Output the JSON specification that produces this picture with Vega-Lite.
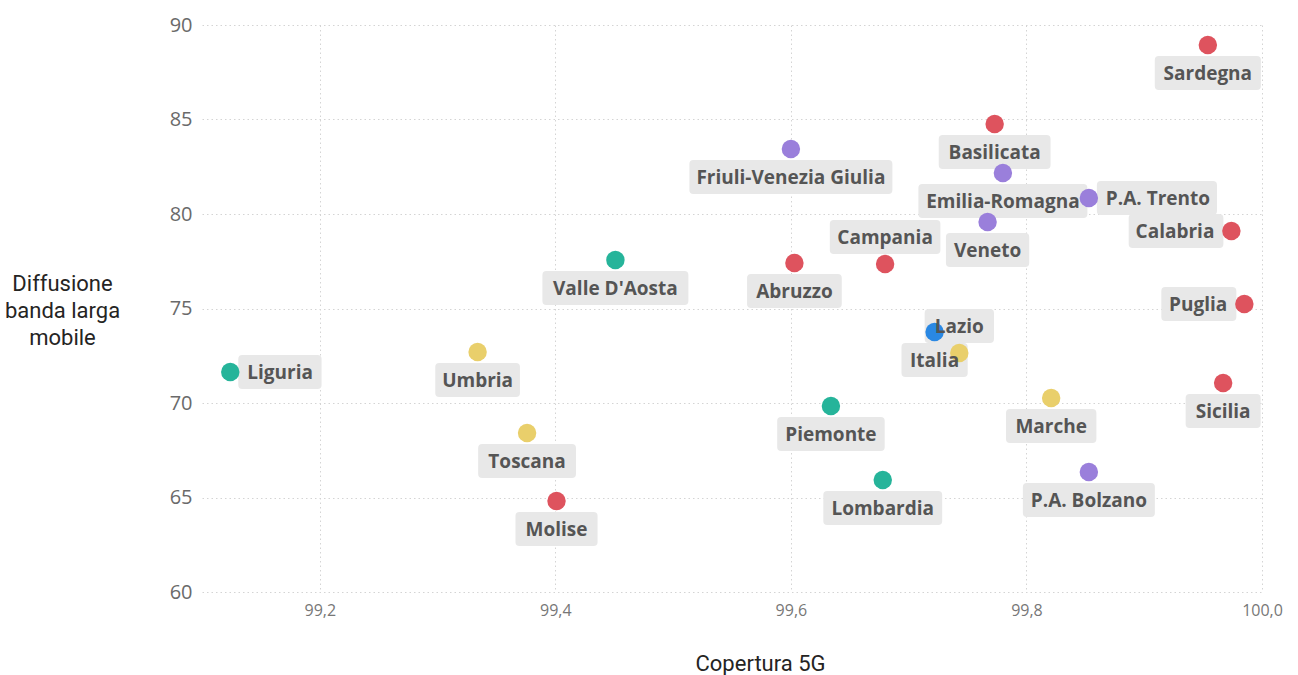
{
  "$schema": "https://vega.github.io/schema/vega-lite/v6.json",
  "autosize": {"type": "none"},
  "width": 1060,
  "height": 567,
  "padding": {"left": 202, "top": 25, "right": 36, "bottom": 83},
  "background": "white",
  "config": {"view": {"stroke": null}},
  "data": {
    "values": [
      {"nome": "Liguria", "copertura": 99.124, "diffusione": 71.64, "zona": "Nord-Ovest", "pos": "right"},
      {"nome": "Umbria", "copertura": 99.334, "diffusione": 72.70, "zona": "Centro", "pos": "below"},
      {"nome": "Toscana", "copertura": 99.376, "diffusione": 68.41, "zona": "Centro", "pos": "below"},
      {"nome": "Molise", "copertura": 99.401, "diffusione": 64.81, "zona": "Sud e Isole", "pos": "below"},
      {"nome": "Valle D'Aosta", "copertura": 99.451, "diffusione": 77.57, "zona": "Nord-Ovest", "pos": "below"},
      {"nome": "Friuli-Venezia Giulia", "copertura": 99.600, "diffusione": 83.44, "zona": "Nord-Est", "pos": "below"},
      {"nome": "Abruzzo", "copertura": 99.603, "diffusione": 77.41, "zona": "Sud e Isole", "pos": "below"},
      {"nome": "Piemonte", "copertura": 99.634, "diffusione": 69.84, "zona": "Nord-Ovest", "pos": "below"},
      {"nome": "Campania", "copertura": 99.680, "diffusione": 77.35, "zona": "Sud e Isole", "pos": "above"},
      {"nome": "Lombardia", "copertura": 99.678, "diffusione": 65.93, "zona": "Nord-Ovest", "pos": "below"},
      {"nome": "Italia", "copertura": 99.722, "diffusione": 73.76, "zona": "Italia", "pos": "below"},
      {"nome": "Lazio", "copertura": 99.743, "diffusione": 72.65, "zona": "Centro", "pos": "above"},
      {"nome": "Basilicata", "copertura": 99.773, "diffusione": 84.76, "zona": "Sud e Isole", "pos": "below"},
      {"nome": "Emilia-Romagna", "copertura": 99.780, "diffusione": 82.17, "zona": "Nord-Est", "pos": "below"},
      {"nome": "Veneto", "copertura": 99.767, "diffusione": 79.58, "zona": "Nord-Est", "pos": "below"},
      {"nome": "Marche", "copertura": 99.821, "diffusione": 70.26, "zona": "Centro", "pos": "below"},
      {"nome": "P.A. Trento", "copertura": 99.853, "diffusione": 80.85, "zona": "Nord-Est", "pos": "right"},
      {"nome": "P.A. Bolzano", "copertura": 99.853, "diffusione": 66.35, "zona": "Nord-Est", "pos": "below"},
      {"nome": "Sardegna", "copertura": 99.954, "diffusione": 88.94, "zona": "Sud e Isole", "pos": "below"},
      {"nome": "Calabria", "copertura": 99.974, "diffusione": 79.10, "zona": "Sud e Isole", "pos": "left"},
      {"nome": "Puglia", "copertura": 99.985, "diffusione": 75.24, "zona": "Sud e Isole", "pos": "left"},
      {"nome": "Sicilia", "copertura": 99.967, "diffusione": 71.06, "zona": "Sud e Isole", "pos": "below"}
    ]
  },
  "transform": [
    {"calculate": "length(datum.nome)", "as": "n"},
    {"calculate": "datum.n - length(replace(datum.nome, regexp('[ilIjf. -]', 'g'), ''))", "as": "nn"},
    {"calculate": "datum.n - length(replace(datum.nome, regexp('[rt]', 'g'), ''))", "as": "nm"},
    {"calculate": "datum.n - length(replace(datum.nome, regexp('[mMwW]', 'g'), ''))", "as": "nw"},
    {"calculate": "(11.4 * datum.n - 5.7 * datum.nn - 3.1 * datum.nm + 7.1 * datum.nw) / 2 + 9", "as": "hw"},
    {"calculate": "datum.pos == 'right' ? 8 + datum.hw : datum.pos == 'left' ? -(8 + datum.hw) : 0", "as": "cx"},
    {"calculate": "datum.pos == 'below' ? 28 : datum.pos == 'above' ? -27 : 0", "as": "cy"},
    {"calculate": "datum.cx - datum.hw", "as": "x0"},
    {"calculate": "datum.cx + datum.hw", "as": "x1"},
    {"calculate": "datum.cy - 17", "as": "y0"},
    {"calculate": "datum.cy + 17", "as": "y1"},
    {"calculate": "'M' + (datum.x0 + 4) + ',' + datum.y0 + 'H' + (datum.x1 - 4) + 'Q' + datum.x1 + ',' + datum.y0 + ',' + datum.x1 + ',' + (datum.y0 + 4) + 'V' + (datum.y1 - 4) + 'Q' + datum.x1 + ',' + datum.y1 + ',' + (datum.x1 - 4) + ',' + datum.y1 + 'H' + (datum.x0 + 4) + 'Q' + datum.x0 + ',' + datum.y1 + ',' + datum.x0 + ',' + (datum.y1 - 4) + 'V' + (datum.y0 + 4) + 'Q' + datum.x0 + ',' + datum.y0 + ',' + (datum.x0 + 4) + ',' + datum.y0 + 'Z'", "as": "box"}
  ],
  "encoding": {
    "x": {
      "field": "copertura", "type": "quantitative",
      "scale": {"domain": [99.1, 100.0], "zero": false, "nice": false},
      "axis": {
        "title": "Copertura 5G",
        "values": [99.2, 99.4, 99.6, 99.8, 100.0],
        "labelExpr": "replace(format(datum.value, '.1f'), '.', ',')",
        "labelFont": "Open Sans", "labelFontSize": 16, "labelColor": "#777777",
        "labelPadding": 10,
        "domain": false, "ticks": false,
        "grid": true, "gridColor": "#d4d4d4", "gridDash": [1.5, 3], "gridWidth": 1,
        "titleFont": "Roboto", "titleFontSize": 22, "titleFontWeight": "normal", "titleColor": "#252423",
        "titleX": 558, "titleY": 71, "titleAlign": "center", "titleBaseline": "middle",
        "labelFlush": false
      }
    },
    "y": {
      "field": "diffusione", "type": "quantitative",
      "scale": {"domain": [60, 90], "zero": false, "nice": false},
      "axis": {
        "title": ["Diffusione", "banda larga", "mobile"],
        "values": [60, 65, 70, 75, 80, 85, 90],
        "labelFont": "Open Sans", "labelFontSize": 20, "labelColor": "#6a6a6a",
        "labelPadding": 10,
        "domain": false, "ticks": false,
        "grid": true, "gridColor": "#d4d4d4", "gridDash": [1.5, 3], "gridWidth": 1,
        "titleFont": "Roboto", "titleFontSize": 22, "titleFontWeight": "normal", "titleColor": "#252423",
        "titleAngle": 0, "titleX": -140, "titleY": 258, "titleAlign": "center", "titleBaseline": "middle",
        "titleLineHeight": 27
      }
    }
  },
  "layer": [
    {
      "mark": {"type": "point", "filled": true, "size": 4, "color": "#e8e8e8", "opacity": 1, "strokeWidth": 0},
      "encoding": {
        "shape": {"field": "box", "type": "nominal", "scale": null, "legend": null}
      }
    },
    {
      "mark": {"type": "point", "filled": true, "size": 340, "opacity": 1, "strokeWidth": 0},
      "encoding": {
        "color": {
          "field": "zona", "type": "nominal", "legend": null,
          "scale": {
            "domain": ["Nord-Ovest", "Nord-Est", "Centro", "Sud e Isole", "Italia"],
            "range": ["#26B49A", "#9A7FDB", "#E9CF6B", "#DE535E", "#2A88E3"]
          }
        }
      }
    },
    {
      "transform": [{"filter": "datum.pos == 'below'"}],
      "mark": {"type": "text", "font": "Open Sans", "fontSize": 19, "fontWeight": "bold", "color": "#555555", "align": "center", "baseline": "middle", "dy": 29},
      "encoding": {"text": {"field": "nome"}}
    },
    {
      "transform": [{"filter": "datum.pos == 'above'"}],
      "mark": {"type": "text", "font": "Open Sans", "fontSize": 19, "fontWeight": "bold", "color": "#555555", "align": "center", "baseline": "middle", "dy": -26},
      "encoding": {"text": {"field": "nome"}}
    },
    {
      "transform": [{"filter": "datum.pos == 'right'"}],
      "mark": {"type": "text", "font": "Open Sans", "fontSize": 19, "fontWeight": "bold", "color": "#555555", "align": "left", "baseline": "middle", "dx": 17, "dy": 1},
      "encoding": {"text": {"field": "nome"}}
    },
    {
      "transform": [{"filter": "datum.pos == 'left'"}],
      "mark": {"type": "text", "font": "Open Sans", "fontSize": 19, "fontWeight": "bold", "color": "#555555", "align": "right", "baseline": "middle", "dx": -17, "dy": 1},
      "encoding": {"text": {"field": "nome"}}
    }
  ]
}
